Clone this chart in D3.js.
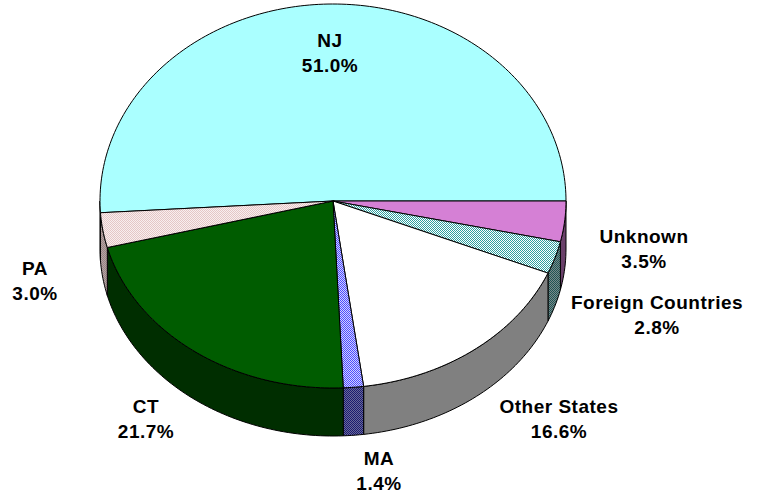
<!DOCTYPE html>
<html>
<head>
<meta charset="utf-8">
<script src="https://cdn.jsdelivr.net/npm/d3@7"></script>
<style>
  html, body { margin: 0; padding: 0; background: #fff; }
  svg { display: block; }
  text { font-family: "Liberation Sans", Arial, sans-serif; font-weight: bold; font-size: 19px; fill: #000; letter-spacing: 0.5px; }
</style>
</head>
<body>
<svg id="chart" width="757" height="494"></svg>
<script>
// data, clockwise from the left edge
const categories = ['NJ', 'Unknown', 'Foreign Countries', 'Other States', 'MA', 'CT', 'PA'];
const shares = [51.0, 3.5, 2.8, 16.6, 1.4, 21.7, 3.0];
const pctLabels = ['51.0%', '3.5%', '2.8%', '16.6%', '1.4%', '21.7%', '3.0%'];

// look
const topFill = ['#aaffff', '#d580d5', 'url(#pFor)', '#ffffff', 'url(#pMa)', '#005c00', 'url(#pPa)'];
const sideFill = ['#558080', '#6a406a', 'url(#pForS)', '#808080', 'url(#pMaS)', '#002e00', 'url(#pPaS)'];
// label anchors [x, first baseline]
const labelPos = [[330, 47], [644, 243], [657, 309], [559, 413], [379, 465], [146, 413], [35, 275]];

// slight perspective: back half deeper than front half
const cx = 333, cy = 201, rx = 233, ryBack = 197, ryFront = 187, depth = 48;

const svg = d3.select('#chart');
const defs = svg.append('defs');

function checker(id, a, b) {
  const p = defs.append('pattern').attr('id', id).attr('width', 2).attr('height', 2)
    .attr('patternUnits', 'userSpaceOnUse');
  p.append('rect').attr('width', 2).attr('height', 2).attr('fill', b);
  p.append('rect').attr('width', 1).attr('height', 1).attr('fill', a);
  p.append('rect').attr('x', 1).attr('y', 1).attr('width', 1).attr('height', 1).attr('fill', a);
}
checker('pFor', '#2f9f9f', '#ffffff');
checker('pForS', '#1f5555', '#7a8a8a');
checker('pMa', '#4d4dff', '#d0d0ff');
checker('pMaS', '#1a1a70', '#6a6a98');
checker('pPa', '#e4c6c6', '#f8eeee');
checker('pPaS', '#9a8484', '#b4a4a4');

const startAngle = Math.PI / 2 - 2 * Math.PI * shares[0] / 100;
const pie = d3.pie().sort(null).value(d => d)
  .startAngle(startAngle).endAngle(startAngle + 2 * Math.PI);
const arcs = pie(shares);

const pt = (a, dy = 0) => {
  const c = Math.cos(a);
  return [cx + rx * Math.sin(a), cy - (c > 0 ? ryBack : ryFront) * c + dy];
};
const line = d3.line();

function sample(a0, a1, dy) {
  const n = Math.max(2, Math.ceil(Math.abs(a1 - a0) / 0.02));
  return d3.range(n + 1).map(i => pt(a0 + (a1 - a0) * i / n, dy));
}

// visible front rim pieces of each slice
function frontParts(d) {
  const parts = [];
  [[Math.PI / 2, 3 * Math.PI / 2], [-3 * Math.PI / 2, -Math.PI / 2]].forEach(([lo, hi]) => {
    const b0 = Math.max(d.startAngle, lo), b1 = Math.min(d.endAngle, hi);
    if (b1 > b0) parts.push([b0, b1]);
  });
  return parts;
}

const sides = svg.append('g');
arcs.forEach((d, i) => {
  frontParts(d).forEach(([b0, b1]) => {
    const pts = sample(b0, b1, 0).concat(sample(b1, b0, depth));
    sides.append('path')
      .attr('d', line(pts) + 'Z')
      .attr('fill', sideFill[i])
      .attr('stroke', '#000')
      .attr('stroke-width', 1)
      .attr('stroke-linejoin', 'round');
  });
});

const tops = svg.append('g');
tops.selectAll('path').data(arcs).join('path')
  .attr('d', d => line([[cx, cy]].concat(sample(d.startAngle, d.endAngle, 0))) + 'Z')
  .attr('fill', (d, i) => topFill[i])
  .attr('stroke', '#000')
  .attr('stroke-width', 1)
  .attr('stroke-linejoin', 'round');

const labels = svg.append('g');
categories.forEach((c, i) => {
  const t = labels.append('text').attr('text-anchor', 'middle');
  t.append('tspan').attr('x', labelPos[i][0]).attr('y', labelPos[i][1]).text(c);
  t.append('tspan').attr('x', labelPos[i][0]).attr('y', labelPos[i][1] + 25).text(pctLabels[i]);
});
</script>
</body>
</html>
